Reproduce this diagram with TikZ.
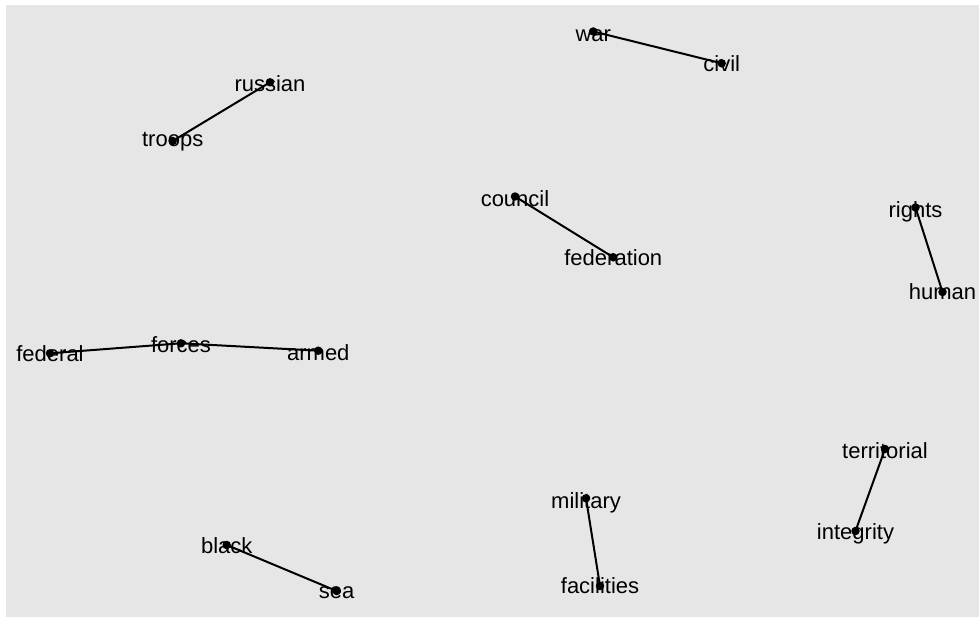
\documentclass[tikz,border=0pt]{standalone}
\usepackage{fontspec}
\setmainfont{Liberation Sans}
\definecolor{panelgrey}{HTML}{E6E6E6}
\begin{document}
\begin{tikzpicture}[x=1pt,y=-1pt,
  edge/.style={draw=black,line width=2pt},
  dot/.style={circle,fill=black,inner sep=0pt,minimum size=8.5pt},
  lbl/.style={anchor=base,inner sep=0pt,font=\fontsize{22}{24}\selectfont,text=black}]
\useasboundingbox (0,0) rectangle (979,617);
\fill[white] (0,0) rectangle (979,617);
\fill[panelgrey] (5.5,5) rectangle (979,617);
% node points
\coordinate (war) at (593.3,31.5);
\coordinate (civil) at (721.7,63.3);
\coordinate (russian) at (270,82.3);
\coordinate (troops) at (172.7,141);
\coordinate (council) at (515,196.5);
\coordinate (federation) at (613.3,257.3);
\coordinate (rights) at (915.5,207.5);
\coordinate (human) at (942.5,292);
\coordinate (federal) at (50,353.3);
\coordinate (forces) at (181,343.3);
\coordinate (armed) at (318.3,350.7);
\coordinate (territorial) at (885,449);
\coordinate (integrity) at (855.5,531);
\coordinate (military) at (586,498.3);
\coordinate (facilities) at (600,586);
\coordinate (black) at (226.7,545);
\coordinate (sea) at (336.7,591);
% edges
\draw[edge] (war) -- (civil);
\draw[edge] (russian) -- (troops);
\draw[edge] (council) -- (federation);
\draw[edge] (rights) -- (human);
\draw[edge] (federal) -- (forces);
\draw[edge] (forces) -- (armed);
\draw[edge] (territorial) -- (integrity);
\draw[edge] (military) -- (facilities);
\draw[edge] (black) -- (sea);
% dots
\foreach \n in {war,civil,russian,troops,council,federation,rights,human,federal,forces,armed,territorial,integrity,military,facilities,black,sea}
  \node[dot] (d-\n) at (\n) {};
% labels
\node[lbl] (t-war) at (593.3,41.5) {war};
\node[lbl] (t-civil) at (721.7,71.3) {civil};
\node[lbl] (t-russian) at (270,91.5) {russian};
\node[lbl] (t-troops) at (172.7,147) {troops};
\node[lbl] (t-council) at (515,206.5) {council};
\node[lbl] (t-federation) at (613.3,266) {federation};
\node[lbl] (t-rights) at (915.5,218) {rights};
\node[lbl] (t-human) at (942.5,300) {human};
\node[lbl] (t-federal) at (50,361.7) {federal};
\node[lbl] (t-forces) at (181,352.3) {forces};
\node[lbl] (t-armed) at (318.3,360.5) {armed};
\node[lbl] (t-territorial) at (885,458) {territorial};
\node[lbl] (t-integrity) at (855.5,539.3) {integrity};
\node[lbl] (t-military) at (586,508) {military};
\node[lbl] (t-facilities) at (600,593.5) {facilities};
\node[lbl] (t-black) at (226.7,553.3) {black};
\node[lbl] (t-sea) at (336.7,598.5) {sea};
\end{tikzpicture}
\end{document}
